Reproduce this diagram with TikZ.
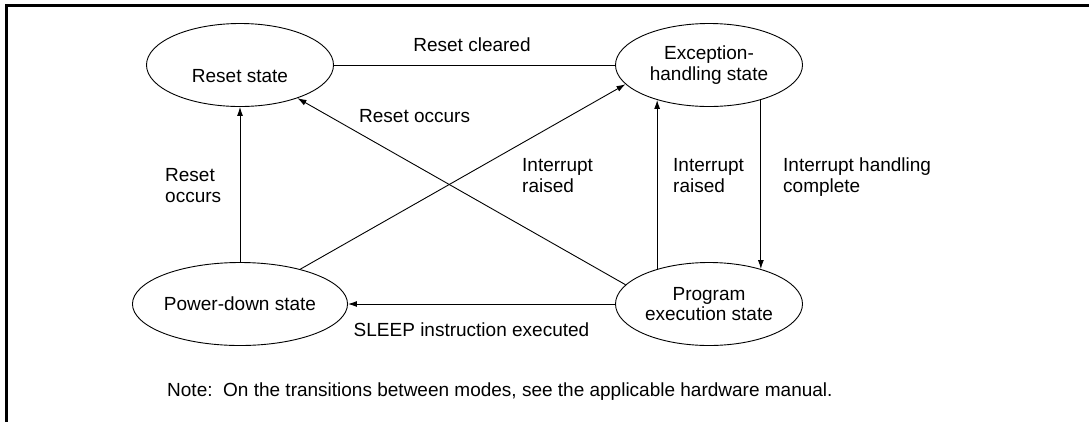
\documentclass[tikz,border=0pt]{standalone}
\usepackage{fontspec}
\setmainfont{Liberation Sans}
\usetikzlibrary{shapes.geometric,arrows.meta,positioning}

\begin{document}
\begin{tikzpicture}[x=1pt,y=-1pt,
    state/.style={draw, ellipse, line width=0.9pt, minimum width=187pt, minimum height=83pt,
        inner sep=0pt, align=center, font=\fontsize{19}{20.5}\selectfont},
    lbl/.style={inner sep=0pt, align=left, font=\fontsize{19}{21}\selectfont},
    conn/.style={line width=0.9pt},
    arr/.style={line width=0.9pt, -{Latex[length=9pt,width=6pt]}}]
    \useasboundingbox (0,0) rectangle (1089,421);

    % Frame
    \draw[line width=2.5pt] (6.3,430) -- (6.3,5.3) -- (1095,5.3);

    % States
    \node[state, label={[lbl, yshift=-11pt]center:Reset state}] (reset) at (240,65) {};
    \node[state] (exc) at (709,65) {Exception-\\handling state};
    \node[state] (pdown) at (240,304) {Power-down state};
    \node[state] (prog) at (709,304) {Program\\execution state};

    % Transitions
    \draw[conn] (reset.east) -- (exc.west); % Reset cleared
    \draw[arr] (pdown) -- (reset); % Reset occurs
    \draw[arr] (prog.167) -- (reset.-30); % Reset occurs
    \draw[arr] (pdown.30) -- (exc.-167); % Interrupt raised
    \draw[arr] (prog.146) -- (exc.-146); % Interrupt raised
    \draw[arr] (exc.-34) -- (prog.34); % Interrupt handling complete
    \draw[arr] (prog.west) -- (pdown.east); % SLEEP

    % Labels
    \node[lbl, anchor=base] (lcleared) at (472,51) {Reset cleared};
    \node[lbl, anchor=base west] (loccurs) at (359,122) {Reset occurs};
    \node[lbl, anchor=north west] (lreset) at (165,168) {Reset\\occurs};
    \node[lbl, anchor=north west] (lirqa) at (522,158) {Interrupt\\raised};
    \node[lbl, anchor=north west] (lirqb) at (673,158) {Interrupt\\raised};
    \node[lbl, anchor=north west] (ldone) at (783,158) {Interrupt handling\\complete};
    \node[lbl, anchor=base] (lsleep) at (471.5,336) {SLEEP instruction executed};
    \node[lbl, anchor=base west] (note) at (167,396) {Note:~~On the transitions between modes, see the applicable hardware manual.};
\end{tikzpicture}
\end{document}
